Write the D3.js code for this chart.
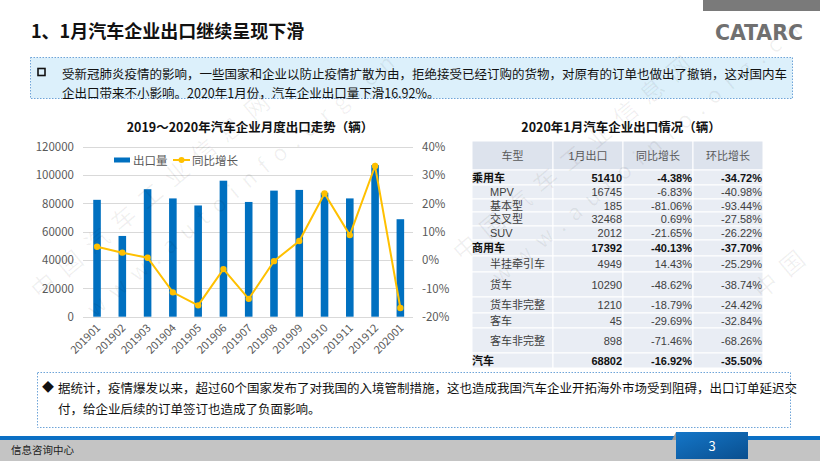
<!DOCTYPE html>
<html><head><meta charset="utf-8">
<script src="https://cdn.jsdelivr.net/npm/d3@7"></script>
<style>
html,body{margin:0;padding:0;background:#fff;}
svg{display:block;font-family:"Noto Sans CJK SC","Noto Sans",sans-serif;}
</style></head>
<body>
<svg id="c" width="820" height="461"></svg>
<script>
// ---------- data ----------
const months = ['201901','201902','201903','201904','201905','201906','201907','201908','201909','201910','201911','201912','202001'];
const exportVolume = [82500, 57000, 90000, 83500, 78500, 96000, 81000, 89000, 89500, 87500, 83500, 107000, 68802];
const yoyGrowth = [4.7, 2.6, 0.8, -11.4, -16.0, -3.2, -13.7, -0.4, 6.7, 23.5, 8.8, 33.2, -16.92];
const leftTicks = [0, 20000, 40000, 60000, 80000, 100000, 120000];
const rightTicks = [-20, -10, 0, 10, 20, 30, 40];

const tableHeader = ['车型', '1月出口', '同比增长', '环比增长'];
const vehicleTypes = ['乘用车','MPV','基本型','交叉型','SUV','商用车','半挂牵引车','货车','货车非完整','客车','客车非完整','汽车'];
const janExports = [51410, 16745, 185, 32468, 2012, 17392, 4949, 10290, 1210, 45, 898, 68802];
const yoyPct = [-4.38, -6.83, -81.06, 0.69, -21.65, -40.13, 14.43, -48.62, -18.79, -29.69, -71.46, -16.92];
const momPct = [-34.72, -40.98, -93.44, -27.58, -26.22, -37.70, -25.29, -38.74, -24.42, -32.84, -68.26, -35.50];
const summaryRows = ['乘用车', '商用车', '汽车'];

// ---------- layout ----------
const rowHeights = [15, 14, 13, 14, 14, 16, 16, 25, 16, 15, 25, 15];
const svg = d3.select('#c');
const CJK = '"Noto Sans CJK SC","Noto Sans",sans-serif';
const TBL = '"Liberation Sans","Noto Sans CJK SC",sans-serif';

// top-right bar and logo
svg.append('rect').attr('x', 703).attr('y', 0).attr('width', 117).attr('height', 11).attr('fill', '#7a7a7a');
svg.append('text').attr('x', 715).attr('y', 40).attr('font-family', '"DejaVu Sans Condensed","DejaVu Sans",sans-serif')
  .attr('font-weight', 'bold').attr('font-size', 22).attr('fill', '#707070')
  .attr('textLength', 88).attr('lengthAdjust', 'spacingAndGlyphs').text('CATARC');

// title
svg.append('text').attr('x', 31).attr('y', 38).attr('font-size', 18).attr('font-weight', 'bold').attr('fill', '#111')
  .text('1、1月汽车企业出口继续呈现下滑');

// watermark
function watermark(x, y, a, t, fs) {
  svg.append('text').attr('transform', `translate(${x},${y}) rotate(${a})`).attr('font-size', fs)
    .attr('fill', '#000').attr('fill-opacity', 0.06).attr('letter-spacing', fs * 0.45).text(t);
}

// top box
svg.append('rect').attr('x', 30.5).attr('y', 57.5).attr('width', 762).attr('height', 41)
  .attr('fill', '#dcf0fb').attr('stroke', '#6ea4d8').attr('stroke-width', 1).attr('stroke-dasharray', '1.5,1.5');
svg.append('rect').attr('x', 38).attr('y', 68.5).attr('width', 7).attr('height', 7).attr('fill', 'none').attr('stroke', '#111').attr('stroke-width', 1.6);
svg.append('text').attr('x', 62).attr('y', 78.5).attr('font-size', 12.5).attr('fill', '#111')
  .text('受新冠肺炎疫情的影响，一些国家和企业以防止疫情扩散为由，拒绝接受已经订购的货物，对原有的订单也做出了撤销，这对国内车');
svg.append('text').attr('x', 62).attr('y', 97.5).attr('font-size', 12.5).attr('fill', '#111')
  .text('企出口带来不小影响。2020年1月份，汽车企业出口量下滑16.92%。');

// ---------- chart ----------
const x = d3.scaleBand().domain(months).range([84.4, 413]).paddingInner(0.7).paddingOuter(0.35);
const yL = d3.scaleLinear().domain([0, 120000]).range([316.7, 146.7]);
const yR = d3.scaleLinear().domain([-20, 40]).range([316.7, 146.7]);

svg.append('text').attr('x', 250).attr('y', 132).attr('text-anchor', 'middle').attr('font-size', 12.5)
  .attr('font-weight', 'bold').attr('fill', '#111').text('2019～2020年汽车企业月度出口走势（辆）');

const gl = svg.append('g');
gl.selectAll('line').data(leftTicks).join('line')
  .attr('x1', 83).attr('x2', 413).attr('y1', d => Math.round(yL(d)) + 0.5).attr('y2', d => Math.round(yL(d)) + 0.5)
  .attr('stroke', '#d9d9d9').attr('stroke-width', 1);

const axL = svg.append('g').attr('transform', 'translate(83,0)')
  .call(d3.axisLeft(yL).tickValues(leftTicks).tickSize(0).tickPadding(9).tickFormat(d3.format('d')));
axL.select('.domain').remove();
axL.selectAll('text').attr('font-family', CJK).attr('font-size', 11.5).attr('fill', '#595959');

const axR = svg.append('g').attr('transform', 'translate(413,0)')
  .call(d3.axisRight(yR).tickValues(rightTicks).tickSize(0).tickPadding(9).tickFormat(d => d + '%'));
axR.select('.domain').remove();
axR.selectAll('text').attr('font-family', CJK).attr('font-size', 11.5).attr('fill', '#595959');

svg.append('g').selectAll('rect').data(months).join('rect')
  .attr('x', d => x(d)).attr('width', x.bandwidth())
  .attr('y', (d, i) => yL(exportVolume[i])).attr('height', (d, i) => yL(0) - yL(exportVolume[i]))
  .attr('fill', '#0070c0');

const line = d3.line().x((d, i) => x(months[i]) + x.bandwidth() / 2).y(d => yR(d));
svg.append('path').datum(yoyGrowth).attr('d', line).attr('fill', 'none').attr('stroke', '#ffc000').attr('stroke-width', 2);
svg.append('g').selectAll('circle').data(yoyGrowth).join('circle')
  .attr('cx', (d, i) => x(months[i]) + x.bandwidth() / 2).attr('cy', d => yR(d)).attr('r', 3.2).attr('fill', '#ffc000');

const axB = svg.append('g').attr('transform', `translate(0,${yL(0)})`)
  .call(d3.axisBottom(x).tickSize(0).tickPadding(0));
axB.select('.domain').remove();
axB.selectAll('text').attr('font-family', CJK).attr('font-size', 11).attr('fill', '#595959')
  .attr('text-anchor', 'end').attr('dy', null).attr('y', 0)
  .attr('transform', 'translate(4,12) rotate(-45)');

// legend
svg.append('rect').attr('x', 114).attr('y', 157.5).attr('width', 16).attr('height', 5).attr('fill', '#0070c0');
svg.append('text').attr('x', 133).attr('y', 164.5).attr('font-size', 11.5).attr('fill', '#595959').text('出口量');
svg.append('line').attr('x1', 173).attr('x2', 190).attr('y1', 160).attr('y2', 160).attr('stroke', '#ffc000').attr('stroke-width', 2);
svg.append('circle').attr('cx', 181.5).attr('cy', 160).attr('r', 3).attr('fill', '#ffc000');
svg.append('text').attr('x', 192).attr('y', 164.5).attr('font-size', 11.5).attr('fill', '#595959').text('同比增长');

// ---------- table ----------
svg.append('text').attr('x', 621).attr('y', 132).attr('text-anchor', 'middle').attr('font-size', 12.5)
  .attr('font-weight', 'bold').attr('fill', '#111').text('2020年1月汽车企业出口情况（辆）');

const colX = [472, 553, 623, 693, 763];
const tTop = 141, headH = 29;
const tg = svg.append('g');
tableHeader.forEach((h, j) => {
  tg.append('rect').attr('x', colX[j]).attr('y', tTop).attr('width', colX[j + 1] - colX[j]).attr('height', headH)
    .attr('fill', '#dde3ed').attr('stroke', '#fff').attr('stroke-width', 1);
  tg.append('text').attr('x', (colX[j] + colX[j + 1]) / 2).attr('y', tTop + headH / 2 + 4)
    .attr('text-anchor', 'middle').attr('font-family', TBL).attr('font-size', 11).attr('fill', '#595959').text(h);
});
let yy = tTop + headH;
const fmtPct = d => d.toFixed(2) + '%';
vehicleTypes.forEach((name, i) => {
  const h = rowHeights[i];
  const bold = summaryRows.includes(name);
  for (let j = 0; j < 4; j++) {
    tg.append('rect').attr('x', colX[j]).attr('y', yy).attr('width', colX[j + 1] - colX[j]).attr('height', h)
      .attr('fill', '#e9edf4').attr('stroke', '#fff').attr('stroke-width', 1);
  }
  const ty = yy + h / 2 + 4;
  const fw = bold ? 'bold' : 'normal';
  const col = bold ? '#111' : '#404040';
  const put = (xx, anchor, t) => tg.append('text').attr('x', xx).attr('y', ty).attr('text-anchor', anchor)
    .attr('font-family', TBL).attr('font-size', 11).attr('font-weight', fw).attr('fill', col).text(t);
  put(bold ? 472 : 490, 'start', name);
  put(622, 'end', janExports[i]);
  put(692, 'end', fmtPct(yoyPct[i]));
  put(762, 'end', fmtPct(momPct[i]));
  yy += h;
});

// bottom box
svg.append('rect').attr('x', 37.5).attr('y', 372.5).attr('width', 753).attr('height', 55)
  .attr('fill', '#fff').attr('stroke', '#6ea4d8').attr('stroke-width', 1).attr('stroke-dasharray', '1.5,1.5');
svg.append('text').attr('x', 42).attr('y', 392).attr('font-size', 12).attr('fill', '#111').text('◆');
svg.append('text').attr('x', 58).attr('y', 392.5).attr('font-size', 12.5).attr('fill', '#111')
  .text('据统计，疫情爆发以来，超过60个国家发布了对我国的入境管制措施，这也造成我国汽车企业开拓海外市场受到阻碍，出口订单延迟交');
svg.append('text').attr('x', 58).attr('y', 414).attr('font-size', 12.5).attr('fill', '#111')
  .text('付，给企业后续的订单签订也造成了负面影响。');

// footer
svg.append('rect').attr('x', 0).attr('y', 440).attr('width', 820).attr('height', 21).attr('fill', '#c4c4c4');
svg.append('rect').attr('x', 0).attr('y', 436).attr('width', 820).attr('height', 4).attr('fill', '#0b6fc4');
const grad = svg.append('defs').append('linearGradient').attr('id', 'pg').attr('x1', 0).attr('y1', 0).attr('x2', 1).attr('y2', 1);
grad.append('stop').attr('offset', 0).attr('stop-color', '#1476c8');
grad.append('stop').attr('offset', 1).attr('stop-color', '#0a4f8f');
svg.append('path').attr('d', 'M672,440 L676,432 L676,440 Z').attr('fill', '#9a9a9a');
svg.append('rect').attr('x', 676).attr('y', 432).attr('width', 72).attr('height', 27).attr('fill', 'url(#pg)');
svg.append('text').attr('x', 712).attr('y', 451).attr('text-anchor', 'middle').attr('font-size', 13).attr('fill', '#fff').text('3');
svg.append('text').attr('x', 11).attr('y', 454).attr('font-size', 10.5).attr('fill', '#222').text('信息咨询中心');

// watermarks (faint)
watermark(40, 300, -40, '中国汽车工业信息网', 24);
watermark(95, 318, -40, 'www.autoinfo.org.cn', 22);
watermark(462, 262, -40, '中国汽车工业信息网', 24);
watermark(500, 285, -40, 'www.autoinfo.org.cn', 22);
watermark(762, 300, -40, '中国', 24);
</script>
</body></html>
